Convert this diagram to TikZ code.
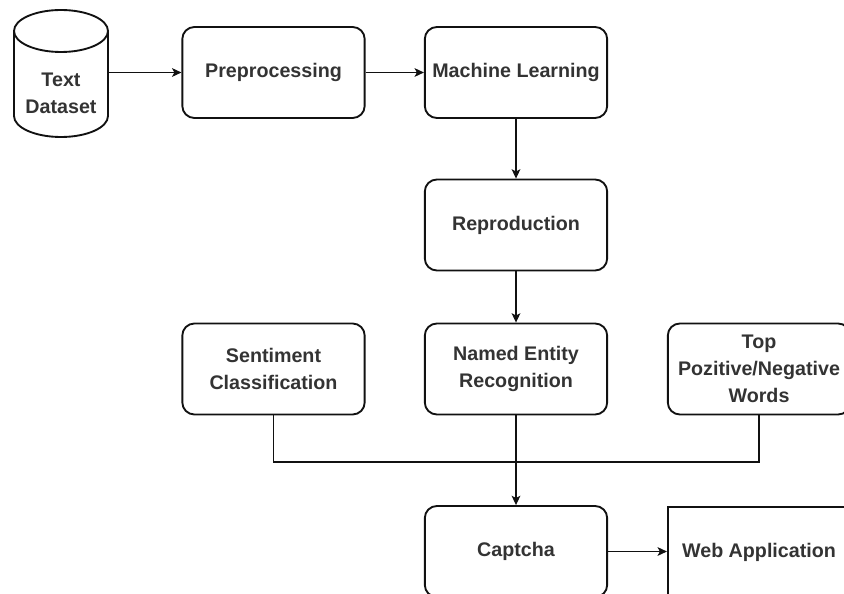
\documentclass[tikz,border=0pt]{standalone}
\usepackage{fontspec}
\setmainfont{Liberation Sans}
\usepackage{tikz}
\usetikzlibrary{positioning,arrows.meta,calc}
\usepackage{xcolor}
\definecolor{ink}{HTML}{333333}
\definecolor{edge}{HTML}{111111}

\begin{document}
\begin{tikzpicture}[x=0.03cm, y=-0.03cm, >={Stealth[length=8pt,width=7.5pt,inset=2pt]},
    proc/.style={draw=edge, line width=1.6pt, rounded corners=0.36cm, minimum width=5.47cm,
      minimum height=2.73cm, align=center, text=ink, font=\fontsize{16.8}{23}\selectfont\bfseries},
    plain/.style={proc, rounded corners=0pt},
    lbl/.style={align=center, text=ink, font=\fontsize{16.8}{23}\selectfont\bfseries},
    link/.style={draw=edge, line width=0.9pt}]
    \clip (0,0) rectangle (844,594);
    % dataset cylinder
    \node[minimum width=2.82cm, minimum height=3.81cm, inner sep=0pt] (data) at (61,73.5) {};
    \draw[edge, line width=1.6pt] (14,31) -- (14,116) .. controls (14,127.6) and (35,137) .. (61,137)
      .. controls (87,137) and (108,127.6) .. (108,116) -- (108,31);
    \draw[edge, line width=1.6pt, fill=white] (61,31) ellipse [x radius=1.41cm, y radius=0.63cm];
    \node[lbl] (datatxt) at (61,93) {Text\\Dataset};
    % top row
    \node[proc] (prep) at (273.5,72.5) {Preprocessing};
    \node[proc] (ml) at (516,72.5) {Machine Learning};
    \node[proc] (repro) at (516,225) {Reproduction};
    % analysis row
    \node[proc] (senti) at (273.5,369) {Sentiment\\Classification};
    \node[proc] (ner) at (516,369) {Named Entity\\Recognition};
    \node[proc] (topw) at (759,369) {Top\\Pozitive/Negative\\Words};
    % output row
    \node[proc] (captcha) at (516,551.5) {Captcha};
    \node[plain] (web) at (759,552.5) {Web Application};
    \coordinate (join) at (516,462);

    \draw[link,->] (data.east |- prep.west) -- (prep.west);
    \draw[link,->] (prep) -- (ml);
    \draw[link,->] (ml) -- (repro);
    \draw[link,->] (repro) -- (ner);
    \draw[link] (senti.south) |- (join) -| (topw.south);
    \draw[link,->] (ner) -- (captcha);
    \draw[link,->] (captcha) -- (captcha -| web.west);
  \end{tikzpicture}
\end{document}
